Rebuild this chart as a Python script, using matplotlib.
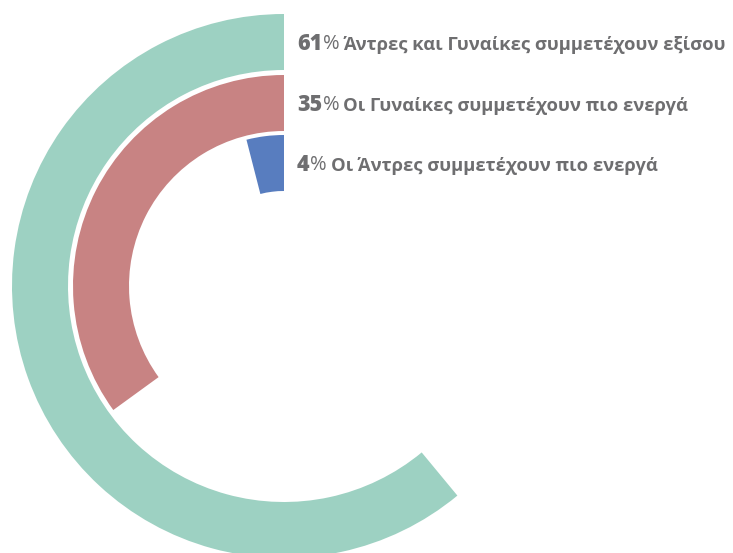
import matplotlib
matplotlib.use("Agg")
import matplotlib.pyplot as plt
from matplotlib.patches import Wedge

percents = [61, 35, 4]
labels = ["Άντρες και Γυναίκες συμμετέχουν εξίσου",
          "Οι Γυναίκες συμμετέχουν πιο ενεργά",
          "Οι Άντρες συμμετέχουν πιο ενεργά"]
colors = ["#9DD1C2", "#C88383", "#587DBF"]

W, H = 733, 553
fig = plt.figure(figsize=(W / 100, H / 100), dpi=100)
ax = fig.add_axes([0, 0, 1, 1])
ax.set_xlim(0, W)
ax.set_ylim(H, 0)
ax.set_aspect("equal")
ax.axis("off")

cx, cy = 284, 286
outer_r = [272, 211, 151]
ring_w = 56

for p, r, c in zip(percents, outer_r, colors):
    t1 = 270 - 360 * p / 100
    w = Wedge((cx, cy), r, t1, 270, width=ring_w, facecolor=c, edgecolor="none")
    ax.add_patch(w)

fam = ["Open Sans", "DejaVu Sans"]
tcol = "#6E6E70"
fig.canvas.draw()
renderer = fig.canvas.get_renderer()
inv = ax.transData.inverted()
for p, r, lab in zip(percents, outer_r, labels):
    y = cy - (r - ring_w / 2) + 2
    x = 297
    t = ax.text(x, y, f"{p}", fontsize=15.5, fontweight="heavy", color=tcol,
                family=fam, va="center", ha="left")
    bb = t.get_window_extent(renderer)
    x2 = inv.transform((bb.x1, 0))[0]
    t2 = ax.text(x2 + 0.5, y, "%", fontsize=14.5, fontweight="normal", color=tcol,
                 family=fam, va="center", ha="left")
    bb2 = t2.get_window_extent(renderer)
    x3 = inv.transform((bb2.x1, 0))[0]
    ax.text(x3 + 4, y + 1, lab, fontsize=13.2, fontweight="bold", color=tcol,
            family=fam, va="center", ha="left")

fig.savefig("out.png", dpi=100, facecolor="white")
